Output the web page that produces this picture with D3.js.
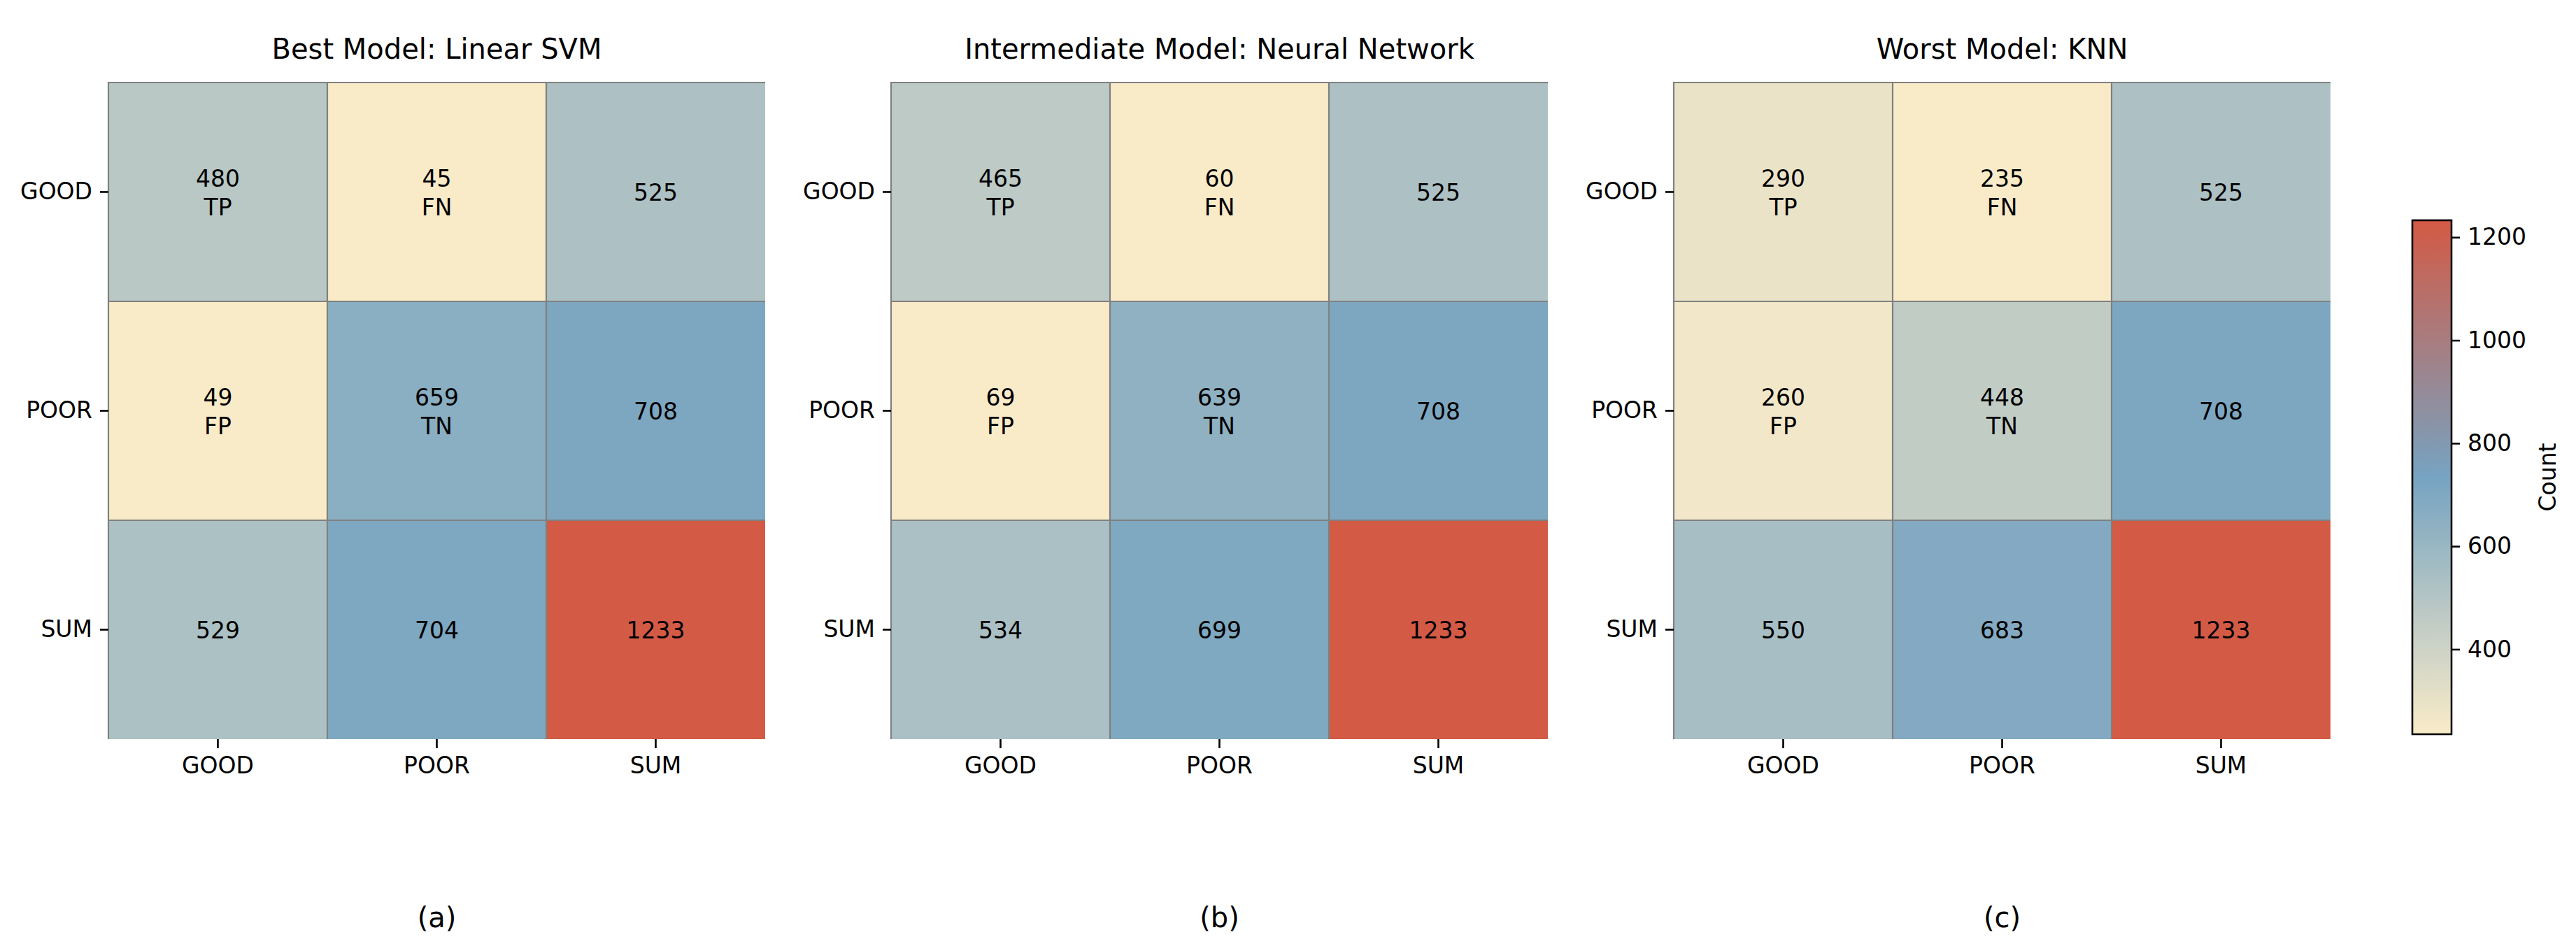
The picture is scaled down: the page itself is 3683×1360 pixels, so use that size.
<!DOCTYPE html>
<html>
<head>
<meta charset="utf-8">
<script src="https://cdn.jsdelivr.net/npm/d3@7"></script>
<style>
  body { margin: 0; background: #fff; }
  text { font-family: "DejaVu Sans", sans-serif; }
</style>
</head>
<body>
<script>
// labels and values
var labels = ["GOOD", "POOR", "SUM"];
var titles = ["Best Model: Linear SVM", "Intermediate Model: Neural Network", "Worst Model: KNN"];
var tags = ["(a)", "(b)", "(c)"];
var svmCounts = [[480, 45, 525], [49, 659, 708], [529, 704, 1233]];
var nnCounts = [[465, 60, 525], [69, 639, 708], [534, 699, 1233]];
var knnCounts = [[290, 235, 525], [260, 448, 708], [550, 683, 1233]];
var cellNames = [["TP", "FN", ""], ["FP", "TN", ""], ["", "", ""]];
var colorTicks = [400, 600, 800, 1000, 1200];
var colorDomain = [235, 1233];

var W = 3683, H = 1360;
var top0 = 118, size = 939, step = 1119, left0 = 155;

var svg = d3.select("body").append("svg")
    .attr("width", W).attr("height", H);

var color = d3.scaleLinear()
    .domain([colorDomain[0], (colorDomain[0] + colorDomain[1]) / 2, colorDomain[1]])
    .range(["#f9ebc8", "#76a3c1", "#d35a45"])
    .clamp(true);

var y = d3.scaleBand().domain(labels).range([top0, top0 + size]);

[svmCounts, nnCounts, knnCounts].forEach(function(counts, p) {
  var left = left0 + p * step;
  var x = d3.scaleBand().domain(labels).range([left, left + size]);
  var g = svg.append("g");

  var cells = [];
  counts.forEach(function(row, i) {
    row.forEach(function(v, j) {
      cells.push({row: labels[i], col: labels[j], value: v, name: cellNames[i][j]});
    });
  });

  g.selectAll("rect.cell").data(cells).enter().append("rect")
      .attr("class", "cell")
      .attr("x", function(d) { return x(d.col); })
      .attr("y", function(d) { return y(d.row); })
      .attr("width", x.bandwidth())
      .attr("height", y.bandwidth())
      .attr("fill", function(d) { return color(d.value); });

  // grid lines: inner boundaries plus top and left edge
  var grid = g.append("g").attr("stroke", "#808080").attr("stroke-width", 2.2);
  labels.forEach(function(l) {
    grid.append("line")
        .attr("x1", x(l)).attr("x2", x(l))
        .attr("y1", top0 - 1).attr("y2", top0 + size);
    grid.append("line")
        .attr("x1", left - 1).attr("x2", left + size)
        .attr("y1", y(l)).attr("y2", y(l));
  });

  var txt = g.selectAll("text.ann").data(cells).enter().append("text")
      .attr("class", "ann")
      .attr("text-anchor", "middle")
      .attr("font-size", 33)
      .attr("fill", "#000");
  txt.each(function(d) {
    var t = d3.select(this);
    var cx = x(d.col) + x.bandwidth() / 2;
    var cy = y(d.row) + y.bandwidth() / 2;
    if (d.name) {
      t.append("tspan").attr("x", cx).attr("y", cy - 20 + 12).text(d.value);
      t.append("tspan").attr("x", cx).attr("y", cy + 21 + 12).text(d.name);
    } else {
      t.append("tspan").attr("x", cx).attr("y", cy + 12).text(d.value);
    }
  });

  var ax = g.append("g").attr("transform", "translate(" + left + ",0)")
      .call(d3.axisLeft(y).tickSize(12).tickPadding(11));
  var bx = g.append("g").attr("transform", "translate(0," + (top0 + size) + ")")
      .call(d3.axisBottom(x).tickSize(13).tickPadding(13));
  [ax, bx].forEach(function(a) {
    a.select(".domain").remove();
    a.selectAll(".tick line").attr("stroke", "#000").attr("stroke-width", 2.6);
    a.selectAll(".tick text").attr("font-size", 33).attr("fill", "#000")
        .attr("font-family", "DejaVu Sans, sans-serif");
  });

  g.append("text")
      .attr("x", left + size / 2).attr("y", 84)
      .attr("text-anchor", "middle").attr("font-size", 40)
      .text(titles[p]);

  g.append("text")
      .attr("x", left + size / 2).attr("y", 1326)
      .attr("text-anchor", "middle").attr("font-size", 40)
      .text(tags[p]);
});

// colorbar
var cbX = 3449, cbW = 56, cbTop = 315, cbBot = 1050;
var cy = d3.scaleLinear().domain(colorDomain).range([cbBot, cbTop]);

var grad = svg.append("defs").append("linearGradient")
    .attr("id", "cbar").attr("x1", 0).attr("x2", 0).attr("y1", 1).attr("y2", 0);
d3.range(0, 1.0001, 0.05).forEach(function(t) {
  var v = colorDomain[0] + t * (colorDomain[1] - colorDomain[0]);
  grad.append("stop").attr("offset", t).attr("stop-color", color(v));
});

svg.append("rect")
    .attr("x", cbX).attr("y", cbTop)
    .attr("width", cbW).attr("height", cbBot - cbTop)
    .attr("fill", "url(#cbar)")
    .attr("stroke", "#000").attr("stroke-width", 2.6);

var cax = svg.append("g").attr("transform", "translate(" + (cbX + cbW) + ",0)")
    .call(d3.axisRight(cy).tickValues(colorTicks).tickFormat(d3.format("d"))
      .tickSize(12).tickPadding(11));
cax.select(".domain").remove();
cax.selectAll(".tick line").attr("stroke", "#000").attr("stroke-width", 2.6);
cax.selectAll(".tick text").attr("font-size", 33).attr("fill", "#000")
    .attr("font-family", "DejaVu Sans, sans-serif");

svg.append("text")
    .attr("transform", "translate(3654," + ((cbTop + cbBot) / 2) + ") rotate(-90)")
    .attr("text-anchor", "middle").attr("font-size", 33)
    .text("Count");
</script>
</body>
</html>
